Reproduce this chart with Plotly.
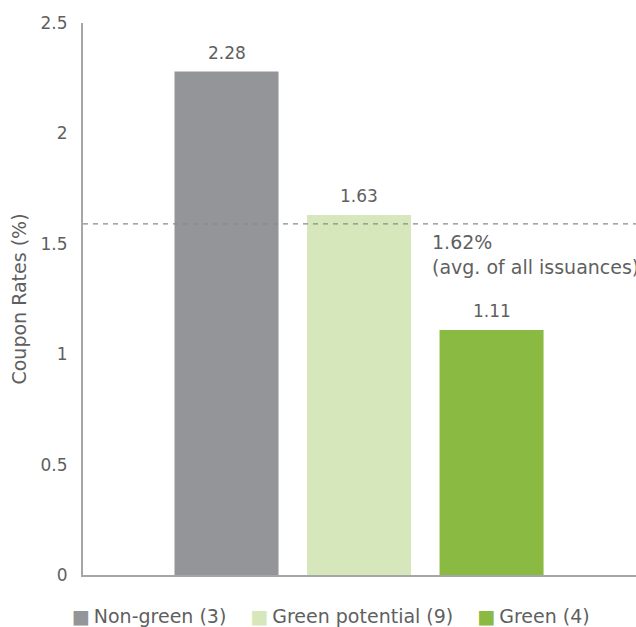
import plotly.graph_objects as go

categories = ["Non-green (3)", "Green potential (9)", "Green (4)"]
values = [2.28, 1.63, 1.11]
value_labels = ["2.28", "1.63", "1.11"]
colors = ["#939598", "#d6e8bb", "#8aba41"]
avg_value = 1.59
avg_label = "1.62%<br>(avg. of all issuances)"
y_ticks = [0, 0.5, 1, 1.5, 2, 2.5]
y_ticktext = ["0", "0.5", "1", "1.5", "2", "2.5"]

TEXT = "#5f5f5f"
FONT = "DejaVu Sans"
FS = 17

fig = go.Figure()
for i, (c, v, col) in enumerate(zip(categories, values, colors)):
    fig.add_trace(go.Bar(x=[i], y=[v], name=c, marker=dict(color=col, line=dict(width=0)),
                         width=0.785, showlegend=False))
    fig.add_annotation(x=i, y=v, text=value_labels[i], showarrow=False, yanchor="bottom",
                       yshift=7, font=dict(family=FONT, size=FS, color=TEXT))

# legend built from the category names and colours
legend_html = "&nbsp;&nbsp;&nbsp;&nbsp;".join(
    f'<span style="color:{col};font-size:19px">■</span>&#8201;{c}' for c, col in zip(categories, colors))
fig.add_annotation(xref="paper", yref="paper", x=0.448, y=-0.075, xanchor="center",
                   yanchor="middle", text=legend_html, showarrow=False,
                   font=dict(family=FONT, size=19, color=TEXT))

fig.add_shape(type="line", xref="paper", x0=0, x1=1, yref="y", y0=avg_value, y1=avg_value,
              line=dict(color="#8a8a8a", width=1.2, dash="5px,5px"), layer="above")
fig.add_annotation(x=1.536, y=avg_value, text=avg_label, showarrow=False, xanchor="left",
                   yanchor="top", yshift=-5, align="left",
                   font=dict(family=FONT, size=19, color=TEXT))

fig.update_layout(
    width=636, height=627,
    margin=dict(l=83, r=0, t=23, b=52),
    plot_bgcolor="white", paper_bgcolor="white",
    barmode="overlay",
    showlegend=False,
    font=dict(family=FONT, size=FS, color=TEXT),
    xaxis=dict(range=[-1.083, 3.09], showticklabels=False, showgrid=False, zeroline=False,
               showline=True, linecolor="#a6a6a6", linewidth=2, ticks=""),
    yaxis=dict(range=[0, 2.5], tickvals=y_ticks, ticktext=y_ticktext, showgrid=False,
               zeroline=False, showline=True, linecolor="#a6a6a6", linewidth=2,
               ticks="", ticklabelstandoff=10,
               tickfont=dict(family=FONT, size=FS, color=TEXT),
               title=dict(text="Coupon Rates (%)", standoff=9,
                          font=dict(family=FONT, size=19, color=TEXT))),
)

fig.write_html("out.html")
